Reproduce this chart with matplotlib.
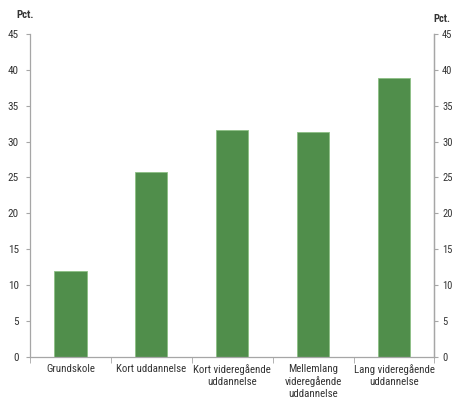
import matplotlib.pyplot as plt
import numpy as np

categories = ["Grundskole", "Kort uddannelse", "Kort videregående\nuddannelse",
              "Mellemlang\nvideregående\nuddannelse", "Lang videregående\nuddannelse"]
values = [12.0, 25.7, 31.6, 31.4, 38.9]
yticks = [0, 5, 10, 15, 20, 25, 30, 35, 40, 45]

plt.rcParams["font.family"] = ["Roboto Condensed", "DejaVu Sans"]

bar_color = "#508E4B"
spine_color = "#A6A6A6"
text_color = "#333333"

fig = plt.figure(figsize=(4.54, 4.03), dpi=100)
ax = fig.add_axes([0.066, 0.114, 0.891, 0.802])

x = np.arange(len(categories))
ax.bar(x, values, width=0.4, color=bar_color, edgecolor="#8CC084", linewidth=0.6, zorder=2)

ax.set_xlim(-0.5, len(categories) - 0.5)
ax.set_ylim(0, 45)
ax.set_yticks(yticks)
ax.set_yticklabels([str(t) for t in yticks], fontsize=8, color=text_color)

ax.set_xticks(x)
ax.set_xticklabels(categories, fontsize=7.8, color=text_color, linespacing=1.25)
ax.tick_params(axis="x", length=0, pad=5)
ax.set_xticks(np.arange(-0.5, len(categories), 1.0), minor=True)
ax.tick_params(axis="x", which="minor", length=4, color=spine_color, direction="out")
ax.tick_params(axis="y", length=3, color=spine_color, direction="out", pad=5)

ax.spines["top"].set_visible(False)
for side in ["left", "right", "bottom"]:
    ax.spines[side].set_color(spine_color)
    ax.spines[side].set_linewidth(0.9)

ax2 = ax.twinx()
ax2.set_ylim(0, 45)
ax2.set_yticks(yticks)
ax2.set_yticklabels([str(t) for t in yticks], fontsize=7.6, color=text_color)
ax2.tick_params(axis="y", length=3, color=spine_color, direction="out", pad=2.5)
for side in ["top", "left", "bottom"]:
    ax2.spines[side].set_visible(False)
ax2.spines["right"].set_color(spine_color)
ax2.spines["right"].set_linewidth(0.9)

fig.text(0.037, 0.963, "Pct.", fontsize=7.8, fontweight="bold", color=text_color, ha="left", va="center")
fig.text(0.955, 0.952, "Pct.", fontsize=7.6, fontweight="bold", color=text_color, ha="left", va="center")

fig.savefig("out.png", dpi=100)
